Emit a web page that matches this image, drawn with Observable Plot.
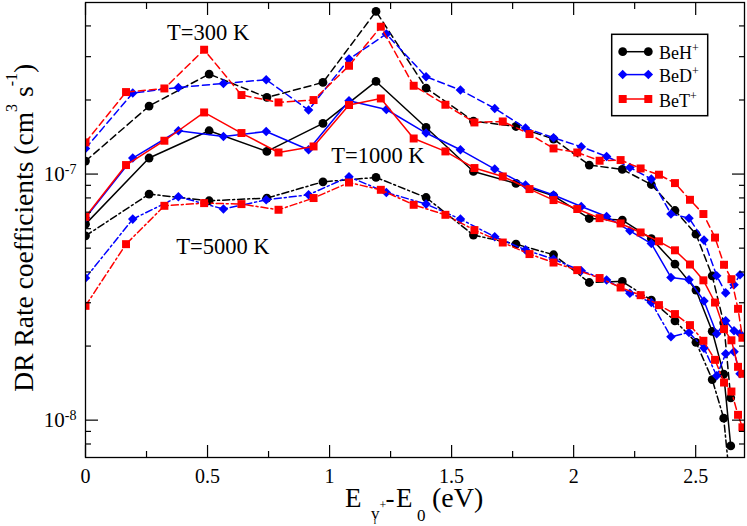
<!DOCTYPE html>
<html>
<head>
<meta charset="utf-8">
<script src="https://cdn.jsdelivr.net/npm/d3@7"></script>
<script src="https://cdn.jsdelivr.net/npm/@observablehq/plot@0.6"></script>
<style>
  html, body { margin: 0; padding: 0; background: #fff; }
  svg { display: block; }
</style>
</head>
<body>
<div id="chart"></div>
<script>
// ---- Data (rate coefficients in units of 1e-7 cm^3 s^-1) ----
const xBeH = [0, 0.2605, 0.5066, 0.7432, 0.9729, 1.1903, 1.3954, 1.5894, 1.7637, 1.9176, 2.0640, 2.1993, 2.3183, 2.4151, 2.5012, 2.5677, 2.6148, 2.6436];
const beH300  = [1.129, 1.890, 2.550, 2.048, 2.357, 4.581, 2.237, 1.642, 1.561, 1.388, 1.088, 1.044, 0.907, 0.711, 0.570, 0.386, 0.2486, 0.1232];
const beH1000 = [0.626, 1.162, 1.500, 1.236, 1.606, 2.379, 1.547, 1.025, 0.916, 0.816, 0.660, 0.650, 0.547, 0.4306, 0.3377, 0.2296, 0.1538, 0.0786];
const beH5000 = [0.561, 0.829, 0.779, 0.799, 0.930, 0.969, 0.803, 0.565, 0.519, 0.470, 0.3625, 0.366, 0.3075, 0.2533, 0.2072, 0.1462, 0.1019, 0.0521];

const xBeD = [0, 0.1936, 0.3806, 0.5652, 0.7404, 0.9139, 1.0796, 1.2326, 1.3954, 1.5361, 1.6768, 1.8027, 1.9176, 2.0312, 2.1350, 2.2305, 2.3183, 2.3987, 2.4725, 2.5340, 2.5861, 2.6230, 2.6571, 2.6817];
const beD300  = [1.271, 2.135, 2.249, 2.335, 2.417, 1.820, 2.934, 3.709, 2.486, 2.195, 1.848, 1.538, 1.405, 1.291, 1.179, 1.064, 0.954, 0.688, 0.662, 0.539, 0.386, 0.329, 0.355, 0.390];
const beD1000 = [0.664, 1.162, 1.500, 1.422, 1.490, 1.255, 1.986, 1.830, 1.468, 1.255, 1.048, 0.902, 0.822, 0.738, 0.672, 0.588, 0.522, 0.380, 0.372, 0.305, 0.2243, 0.2533, 0.2307, 0.2243];
const beD5000 = [0.378, 0.656, 0.809, 0.721, 0.786, 0.824, 0.975, 0.842, 0.755, 0.656, 0.556, 0.492, 0.451, 0.4045, 0.371, 0.328, 0.3006, 0.2182, 0.2271, 0.1962, 0.1514, 0.1860, 0.1895, 0.1543];

const xBeT = [0, 0.1661, 0.3232, 0.4860, 0.6390, 0.7908, 0.9344, 1.0796, 1.2100, 1.3446, 1.4746, 1.5935, 1.7096, 1.8191, 1.9176, 2.0148, 2.1063, 2.1924, 2.2744, 2.3495, 2.4151, 2.4766, 2.5316, 2.5792, 2.6161, 2.6464, 2.6735, 2.6915];
const beT300  = [1.345, 2.154, 2.228, 3.201, 2.095, 1.955, 1.999, 2.755, 3.970, 2.285, 1.913, 1.621, 1.636, 1.454, 1.271, 1.224, 1.133, 1.140, 1.054, 0.994, 0.919, 0.786, 0.688, 0.552, 0.428, 0.374, 0.2834, 0.2162];
const beT1000 = [0.670, 1.088, 1.366, 1.780, 1.468, 1.224, 1.295, 1.908, 2.029, 1.395, 1.236, 1.058, 0.978, 0.869, 0.784, 0.721, 0.662, 0.630, 0.579, 0.533, 0.490, 0.429, 0.370, 0.3006, 0.2344, 0.2111, 0.1647, 0.1543];
const beT5000 = [0.2914, 0.519, 0.743, 0.762, 0.755, 0.716, 0.799, 0.924, 0.863, 0.750, 0.683, 0.592, 0.527, 0.473, 0.437, 0.407, 0.378, 0.346, 0.322, 0.2934, 0.2698, 0.2433, 0.2101, 0.1758, 0.1422, 0.1307, 0.1051, 0.0935];

const unit = 1e-7;
const molecules = ["BeH", "BeD", "BeT"];
const temperatures = [300, 1000, 5000];
const tempLabels = ["T=300 K", "T=1000 K", "T=5000 K"];
const xMajor = [0, 0.5, 1, 1.5, 2, 2.5];
const xMinor = [0.25, 0.75, 1.25, 1.75, 2.25];
const yMajor = [1e-8, 1e-7];
const yMinor = [8e-9, 9e-9, 2e-8, 3e-8, 4e-8, 5e-8, 6e-8, 7e-8, 8e-8, 9e-8, 2e-7, 3e-7, 4e-7];

const seriesX = {BeH: xBeH, BeD: xBeD, BeT: xBeT};
const seriesY = {
  BeH: {300: beH300, 1000: beH1000, 5000: beH5000},
  BeD: {300: beD300, 1000: beD1000, 5000: beD5000},
  BeT: {300: beT300, 1000: beT1000, 5000: beT5000}
};

// ---- Styles ----
const colorOf = {BeH: "#000000", BeD: "#0000ff", BeT: "#ff0000"};
const symbolOf = {BeH: "circle", BeD: "diamond2", BeT: "square"};
const rOf = {BeH: 4.4, BeD: 4.3, BeT: 4.5};
const dashOf = {300: "7,4", 1000: null, 5000: "7,3,2,3"};

const seriesMarks = [];
for (const m of molecules) {
  for (const T of temperatures) {
    const data = seriesX[m].map((x, i) => ({x, y: seriesY[m][T][i] * unit}));
    seriesMarks.push(
      Plot.line(data, {x: "x", y: "y", stroke: colorOf[m], strokeWidth: 1.5,
        strokeDasharray: dashOf[T], clip: true}),
      Plot.dot(data, {x: "x", y: "y", fill: colorOf[m], symbol: symbolOf[m],
        r: rOf[m], clip: true})
    );
  }
}

const annotations = [
  {label: tempLabels[0], x: 0.5025, y: 3.743e-7},
  {label: tempLabels[1], x: 1.198, y: 1.192e-7},
  {label: tempLabels[2], x: 0.563, y: 5.07e-8}
];

const fontFam = "'Liberation Serif', 'Times New Roman', Times, serif";

const svg = Plot.plot({
  width: 747,
  height: 526,
  marginLeft: 85,
  marginRight: 3,
  marginTop: 2,
  marginBottom: 69,
  style: {fontFamily: fontFam, fontSize: "20px", color: "black", background: "white"},
  x: {domain: [0, 2.70], axis: null},
  y: {type: "log", domain: [7.05e-9, 4.98e-7], axis: null},
  marks: [
    ...seriesMarks,
    Plot.text(annotations, {x: "x", y: "y", text: "label", fontSize: 22.5, fill: "black", lineAnchor: "middle"}),
    Plot.frame({stroke: "black", strokeWidth: 1.3}),
    Plot.axisX(xMajor, {anchor: "bottom", tickSize: -12, fill: "none", strokeWidth: 1.2}),
    Plot.axisX(xMinor, {anchor: "bottom", tickSize: -6, fill: "none", strokeWidth: 1.2}),
    Plot.axisX(xMajor, {anchor: "top", tickSize: -12, fill: "none", strokeWidth: 1.2}),
    Plot.axisX(xMinor, {anchor: "top", tickSize: -6, fill: "none", strokeWidth: 1.2}),
    Plot.axisY(yMajor, {anchor: "left", tickSize: -13, fill: "none", strokeWidth: 1.2}),
    Plot.axisY(yMinor, {anchor: "left", tickSize: -6, fill: "none", strokeWidth: 1.2}),
    Plot.axisY(yMajor, {anchor: "right", tickSize: -13, fill: "none", strokeWidth: 1.2}),
    Plot.axisY(yMinor, {anchor: "right", tickSize: -6, fill: "none", strokeWidth: 1.2}),
    Plot.axisX(xMajor, {anchor: "bottom", tickSize: 0, tickPadding: 11, fontSize: 20, label: null,
      tickFormat: d => String(d)}),
    Plot.axisY(yMajor, {anchor: "left", tickSize: 0, tickPadding: 9, fontSize: 21, label: null,
      tickFormat: d => "10|" + Math.round(Math.log10(d))})
  ]
});

document.getElementById("chart").appendChild(svg);

// superscripts on the log tick labels
const NS = "http://www.w3.org/2000/svg";
svg.querySelectorAll("text").forEach(t => {
  if (t.textContent.includes("|")) {
    const [base, exp] = t.textContent.split("|");
    t.textContent = base;
    const ts = document.createElementNS(NS, "tspan");
    ts.setAttribute("dy", "-0.5em");
    ts.setAttribute("font-size", "14");
    ts.textContent = exp;
    t.appendChild(ts);
  }
});

const s = d3.select(svg);

// Y axis title
const yt = s.append("text")
  .attr("transform", "translate(33,391.7) rotate(-90)")
  .attr("font-family", fontFam).attr("font-size", 27.5).attr("fill", "black")
  .attr("text-anchor", "start");
yt.append("tspan").text("DR Rate coefficients (cm");
yt.append("tspan").attr("dy", -16).attr("font-size", 16).text("3");
yt.append("tspan").attr("dy", 16).text(" s");
yt.append("tspan").attr("dy", -16).attr("font-size", 16).text("-1");
yt.append("tspan").attr("dy", 16).text(")");

// X axis title: E_{v_i^+} - E_0 (eV)
const xt = s.append("g").attr("font-family", fontFam).attr("fill", "black").attr("text-anchor", "start");
xt.append("text").attr("x", 345).attr("y", 506.7).attr("font-size", 27).text("E");
xt.append("text").attr("x", 371).attr("y", 519).attr("font-size", 17).text("v");
xt.append("text").attr("x", 379.5).attr("y", 509).attr("font-size", 12).text("+");
xt.append("text").attr("x", 373.5).attr("y", 524).attr("font-size", 10).text("i");
xt.append("text").attr("x", 385.5).attr("y", 506.7).attr("font-size", 27).text("-");
xt.append("text").attr("x", 396).attr("y", 506.7).attr("font-size", 27).text("E");
xt.append("text").attr("x", 417).attr("y", 521).attr("font-size", 17).text("0");
xt.append("text").attr("x", 432).attr("y", 506.7).attr("font-size", 28).text("(eV)");

// Legend
const leg = s.append("g").attr("text-anchor", "start");
leg.append("rect").attr("x", 611.7).attr("y", 34.3).attr("width", 96).attr("height", 81.4)
  .attr("fill", "white").attr("stroke", "black").attr("stroke-width", 1.5);
const legendRows = [51.7, 74.6, 99.0];
const d3sym = {circle: d3.symbolCircle, diamond2: d3.symbolDiamond2, square: d3.symbolSquare};
molecules.forEach((m, i) => {
  const y = legendRows[i];
  leg.append("line").attr("x1", 622.7).attr("x2", 648.3).attr("y1", y).attr("y2", y)
    .attr("stroke", colorOf[m]).attr("stroke-width", 1.5);
  const path = d3.symbol(d3sym[symbolOf[m]], Math.PI * rOf[m] * rOf[m])();
  [622.7, 648.3].forEach(x => {
    leg.append("path").attr("d", path).attr("transform", `translate(${x},${y})`).attr("fill", colorOf[m]);
  });
  const tx = leg.append("text").attr("x", 659).attr("y", y + 7.6)
    .attr("font-family", fontFam).attr("font-size", 18).attr("fill", "black");
  tx.append("tspan").text(m);
  tx.append("tspan").attr("dy", -7).attr("font-size", 12).text("+");
});
</script>
</body>
</html>
